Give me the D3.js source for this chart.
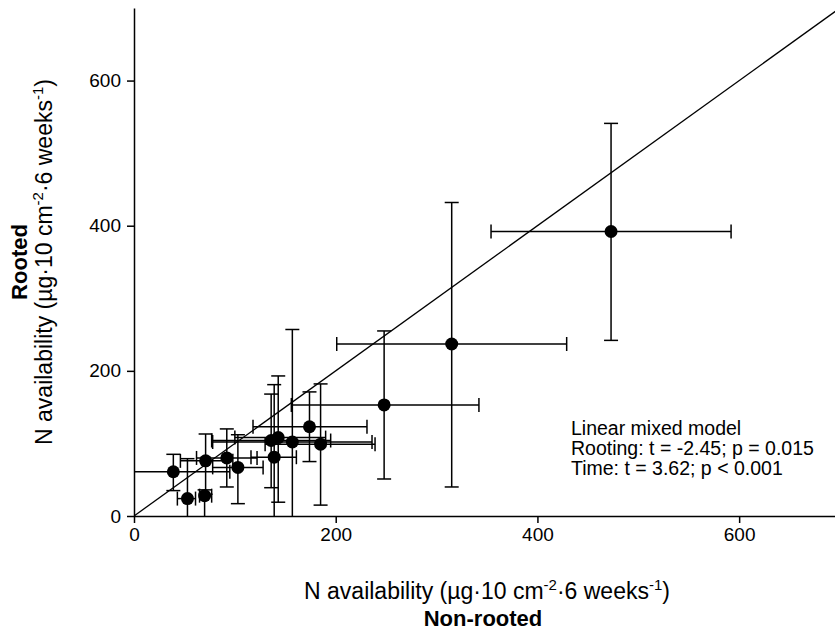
<!DOCTYPE html>
<html>
<head>
<meta charset="utf-8">
<script src="https://cdn.jsdelivr.net/npm/d3@7"></script>
<style>
  body { margin: 0; background: #fff; }
  svg { display: block; font-family: "Liberation Sans", Arial, sans-serif; }
  .axis path, .axis line { stroke: #000; stroke-width: 1.5px; }
  .axis text { font-size: 19px; fill: #000; }
  .bar { stroke: #000; stroke-width: 1.5px; fill: none; }
  .ident { stroke: #000; stroke-width: 1.3px; fill: none; }
</style>
</head>
<body>
<script>
// mean N availability, non-rooted (x) and rooted (y), with error bar limits
var nonRooted   = [39, 53, 70, 71, 92, 103, 136, 143, 139, 157, 174, 185, 248, 315, 473];
var nonRootedLo = [-20, 43, 65, 46, 62, 78, 77, 100, 116, 78, 118, 130, 156, 201, 354];
var nonRootedHi = [95, 61, 77, 98, 122, 128, 195, 190, 161, 236, 231, 239, 342, 429, 592];
var rooted      = [61, 24, 28, 76, 80, 67, 104, 108, 81, 102, 123, 99, 153, 237, 392];
var rootedLo    = [35, -10, -10, 30, 40, 17, 39, 19, -10, -10, 75, 15, 51, 40, 242];
var rootedHi    = [85, 79, 36, 113, 120, 112, 168, 193, 181, 257, 171, 182, 255, 432, 541];

var xTicks = [0, 200, 400, 600];
var yTicks = [0, 200, 400, 600];
var statsLines = ["Linear mixed model", "Rooting: t = -2.45; p = 0.015", "Time: t = 3.62; p < 0.001"];

var width = 835,
    height = 631;

var margin = {left: 134, top: 8};
var plotW = 706, plotH = 508;

var x = d3.scaleLinear().domain([0, 700]).range([margin.left, margin.left + plotW]);
var y = d3.scaleLinear().domain([0, 700]).range([margin.top + plotH, margin.top]);

var svg = d3.select("body").append("svg")
    .attr("width", width)
    .attr("height", height);

svg.append("clipPath")
    .attr("id", "plot")
  .append("rect")
    .attr("x", margin.left)
    .attr("y", margin.top)
    .attr("width", plotW)
    .attr("height", plotH);

var points = nonRooted.map(function(d, i) {
  return {x: d, xlo: nonRootedLo[i], xhi: nonRootedHi[i], y: rooted[i], ylo: rootedLo[i], yhi: rootedHi[i]};
});

var g = svg.append("g").attr("clip-path", "url(#plot)");

// 1:1 line
g.append("line")
    .attr("class", "ident")
    .attr("x1", x(0)).attr("y1", y(0))
    .attr("x2", x(700)).attr("y2", y(700));

var cap = 7;
var bars = g.selectAll(".err").data(points).enter().append("g").attr("class", "err");

bars.append("line").attr("class", "bar")
    .attr("x1", function(d) { return x(d.xlo); })
    .attr("x2", function(d) { return x(d.xhi); })
    .attr("y1", function(d) { return y(d.y); })
    .attr("y2", function(d) { return y(d.y); });
bars.append("line").attr("class", "bar")
    .attr("x1", function(d) { return x(d.x); })
    .attr("x2", function(d) { return x(d.x); })
    .attr("y1", function(d) { return y(d.ylo); })
    .attr("y2", function(d) { return y(d.yhi); });

["xlo", "xhi"].forEach(function(k) {
  bars.append("line").attr("class", "bar")
      .attr("x1", function(d) { return x(d[k]); })
      .attr("x2", function(d) { return x(d[k]); })
      .attr("y1", function(d) { return y(d.y) - cap; })
      .attr("y2", function(d) { return y(d.y) + cap; });
});
["ylo", "yhi"].forEach(function(k) {
  bars.append("line").attr("class", "bar")
      .attr("x1", function(d) { return x(d.x) - cap; })
      .attr("x2", function(d) { return x(d.x) + cap; })
      .attr("y1", function(d) { return y(d[k]); })
      .attr("y2", function(d) { return y(d[k]); });
});

g.selectAll(".dot").data(points).enter().append("circle")
    .attr("class", "dot")
    .attr("cx", function(d) { return x(d.x); })
    .attr("cy", function(d) { return y(d.y); })
    .attr("r", 6.5)
    .attr("fill", "#000");

// axes
svg.append("g")
    .attr("class", "axis")
    .attr("transform", "translate(0," + y(0) + ")")
    .call(d3.axisBottom(x).tickValues(xTicks).tickSize(7).tickSizeOuter(0).tickPadding(5));

svg.append("g")
    .attr("class", "axis")
    .attr("transform", "translate(" + x(0) + ",0)")
    .call(d3.axisLeft(y).tickValues(yTicks).tickSize(7).tickSizeOuter(0).tickPadding(6));

// stats text
var stats = svg.append("text")
    .attr("x", 571)
    .attr("y", 435)
    .style("font-size", "19.5px");
stats.selectAll("tspan").data(statsLines).enter().append("tspan")
    .attr("x", 571)
    .attr("dy", function(d, i) { return i ? 20 : 0; })
    .text(function(d) { return d; });

// axis titles
function unitLabel(sel) {
  sel.append("tspan").text("N availability (µg·10 cm");
  sel.append("tspan").attr("dy", -9).style("font-size", "15px").text("-2");
  sel.append("tspan").attr("dy", 9).text("·6 weeks");
  sel.append("tspan").attr("dy", -9).style("font-size", "15px").text("-1");
  sel.append("tspan").attr("dy", 9).text(")");
}

var cx = (margin.left + margin.left + plotW) / 2;
svg.append("text")
    .attr("x", cx).attr("y", 599)
    .attr("text-anchor", "middle")
    .style("font-size", "23px")
    .call(unitLabel);
svg.append("text")
    .attr("x", cx - 4).attr("y", 626)
    .attr("text-anchor", "middle")
    .style("font-size", "22px")
    .style("font-weight", "bold")
    .text("Non-rooted");

var cy = margin.top + plotH / 2;
svg.append("text")
    .attr("transform", "translate(52," + cy + ") rotate(-90)")
    .attr("text-anchor", "middle")
    .style("font-size", "23px")
    .call(unitLabel);
svg.append("text")
    .attr("transform", "translate(27," + cy + ") rotate(-90)")
    .attr("text-anchor", "middle")
    .style("font-size", "22px")
    .style("font-weight", "bold")
    .text("Rooted");
</script>
</body>
</html>
